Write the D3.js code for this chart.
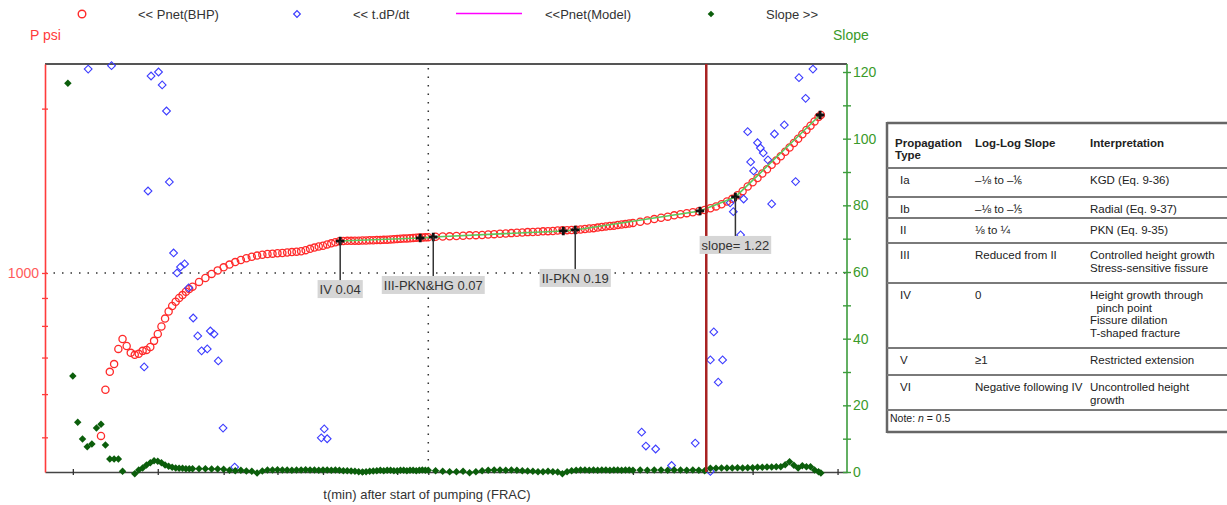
<!DOCTYPE html>
<html>
<head>
<meta charset="utf-8">
<script src="https://cdn.jsdelivr.net/npm/d3@7"></script>
<style>
  body { margin: 0; background: #fff; }
  svg { display: block; font-family: Arial, 'Liberation Sans', sans-serif; }
</style>
</head>
<body>
<svg id="chart" width="1227" height="505"></svg>
<script>
// time since start of pumping (min), shared by Pnet(BHP) and Slope
const tMin = [
  2.95, 3.00, 3.05, 3.10, 3.15, 3.20, 3.25, 3.30, 3.35, 3.40, 3.45, 3.50, 3.55, 3.60, 3.65, 3.70,
  3.75, 3.80, 3.85, 3.90, 3.95, 4.00, 4.05, 4.10, 4.15, 4.20, 4.25, 4.30, 4.35, 4.40, 4.45, 4.50,
  4.6, 4.7, 4.8, 4.9, 5.0, 5.1, 5.2, 5.3, 5.4, 5.5, 5.6, 5.7, 5.8, 5.9, 6.0, 6.1, 6.2, 6.3, 6.4, 6.5,
  6.6, 6.7, 6.8, 6.9, 7.0, 7.1, 7.2, 7.3, 7.4, 7.5, 7.6, 7.7, 7.8, 7.9, 8.0, 8.1, 8.2, 8.3, 8.4, 8.5,
  8.6, 8.7, 8.8, 8.9, 9.0, 9.1, 9.2, 9.3, 9.4, 9.5, 9.6, 9.7, 9.8, 9.9, 10.0,
  10.25, 10.5, 10.75, 11, 11.25, 11.5, 11.75, 12, 12.25, 12.5, 12.75, 13, 13.25, 13.5, 13.75, 14,
  14.25, 14.5, 14.75, 15, 15.25, 15.5, 15.75, 16, 16.25, 16.5, 16.75, 17, 17.25, 17.5, 17.75, 18,
  18.25, 18.5, 18.75, 19, 19.25, 19.5, 19.75, 20,
  20.5, 21, 21.5, 22, 22.5, 23, 23.5, 24, 24.5, 25, 25.5, 26, 26.5, 27, 27.5, 28, 28.5, 29, 29.5, 30,
  30.5, 31, 31.5, 32, 32.5, 33, 33.5, 34, 34.5, 35, 35.5, 36, 36.5, 37, 37.5, 37.8
];
// net pressure (psi), null where below the axis
const pnetBHP = [
  null, null, null, null, null, null, null, 503, 611, 659, 681, 726, 757, 735, 714, 708,
  711, 720, 723, 732, 751, 773, 798, 825, 850, 870, 886, 900, 911, 924, 935, 944,
  963, 979, 996, 1011, 1024, 1036, 1047, 1056, 1064, 1071, 1076, 1080, 1083, 1085, 1087, 1088, 1090, 1092, 1094, 1096,
  1101, 1107, 1113, 1118, 1122, 1128, 1133, 1138, 1143, 1144, 1145, 1145, 1146, 1146, 1147, 1147, 1148, 1148, 1149, 1149,
  1150, 1151, 1152, 1153, 1154, 1155, 1156, 1157, 1158, 1159, 1160, 1161, 1161, 1162, 1163,
  1165, 1166, 1167, 1169, 1170, 1172, 1173, 1174, 1176, 1178, 1180, 1181, 1183, 1185, 1186, 1188,
  1189, 1190, 1192, 1193, 1194, 1196, 1197, 1198, 1199, 1200, 1201, 1204, 1206, 1208, 1211, 1214,
  1217, 1219, 1221, 1224, 1227, 1229, 1232, 1235,
  1241, 1248, 1255, 1262, 1268, 1275, 1281, 1287, 1292, 1297, 1304, 1314, 1324, 1336, 1352, 1367, 1388, 1412, 1440, 1466,
  1493, 1521, 1549, 1578, 1607, 1636, 1667, 1698, 1730, 1762, 1795, 1827, 1860, 1895, 1930, 1947
];
// log-log slope (right axis)
const slope = [
  116.6, 28.8, 14.9, 9.9, 7.6, 8.4, 13.2, 14.3, 8.1, 3.9, 3.9, 3.9, 0.2, null, null, -0.5,
  0.6, 1.2, 2.1, 2.8, 3.4, 3.2, 2.8, 2.1, 1.7, 1.4, 1.2, 1.1, 1.1, 1.0, 1.0, 1.0,
  1.0, 1.0, 0.9, 0.9, 0.8, 0.5, 0.4, 0.5, 0.3, 0.2, -0.3, 0.3, 0.6, 0.6, 0.7, 0.6, 0.6, 0.5, 0.6, 0.6,
  0.7, 0.6, 0.6, 0.5, 0.6, 0.6, 0.5, 0.6, 0.5, 0.4, 0.4, 0.3, 0.2, 0.1, 0.0, 0.1, 0.2, 0.3, 0.4, 0.5,
  0.4, 0.5, 0.5, 0.4, 0.4, 0.5, 0.5, 0.4, 0.5, 0.5, 0.4, 0.5, 0.6, 0.5, 0.5,
  0.4, 0.2, 0.1, 0.1, 0.2, -0.2, 0.1, 0.4, 0.5, 0.6, 0.6, 0.5, 0.6, 0.5, 0.4, 0.3,
  0.2, 0.1, 0.1, 0.2, 0.1, 0.0, -0.5, 0.1, 0.4, 0.5, 0.6, 0.6, 0.5, 0.6, 0.5, 0.6,
  0.6, 0.5, 0.6, 0.6, 0.5, 0.6, 0.6, 0.5,
  0.6, 0.5, 0.6, 0.6, 0.5, 0.6, 0.6, 0.5, 0.6, 0.5, 0.4, 1.1, 1.1, 1.2, 1.2, 1.2, 1.3, 1.2, 1.3, 1.3,
  1.4, 1.4, 1.5, 1.5, 1.6, 1.6, 2.2, 3.1, 2.0, 1.2, 1.9, 1.6, 1.6, 0.6, 0.1, -0.3
];
// t.dP/dt (psi)
const dpdtTime = [3.16, 3.42, 3.82, 3.87, 3.91, 4.01, 4.06, 4.12, 4.16, 4.22, 4.27, 4.32, 4.38, 4.44,
  4.51, 4.58, 4.64, 4.73, 4.78, 4.84, 4.91, 4.99, 5.19, 6.96, 7.03, 7.10, 20.6, 20.9, 21.6, 22.8,
  24.7, 26.0, 26.0, 26.3, 26.7, 27.1, 27.8, 28.1, 28.8, 29.1, 29.5, 29.8, 30.1, 30.5, 30.8, 31.1,
  31.6, 32.0, 32.3, 33.4, 34.7, 35.1, 35.9, 36.8];
const dpdtPsi = [2363, 2397, 673, 1413, 2295, 2334, 2210, 1980, 1468, 1088, 1000, 1026, 1039, 939,
  827, 767, 720, 726, 783, 773, 690, 520, 441, 499, 518, 497, 511, 482, 476, 444,
  488, 433, 693, 780, 631, 693, 1344, 1295, 1174, 1366, 1815, 1597, 1538, 1732, 1694, 1659,
  1611, 1338, 1797, 1867, 1470, 2279, 2089, 2363];
// Pnet(Model) fit break points
const modelTime = [7.42, 9.73, 10.17, 15.8, 16.45, 25.1, 28.3, 37.7];
const modelPsi = [1144, 1159, 1164, 1194, 1199, 1299, 1378, 1947];
const fitLabels = ['IV 0.04', 'III-PKN&HG 0.07', 'II-PKN 0.19', 'slope= 1.22'];
const fitIndex = [0, 2, 4, 6];
const shutInTime = 25.64;

const pTicks = [500, 600, 700, 800, 900, 1000, 2000];
const slopeTicks = [0, 10, 20, 30, 40, 50, 60, 70, 80, 90, 100, 110, 120];
const tTicks = [3, 4, 5, 6, 7, 8, 9, 10, 20, 30, 40];

const tableHead = ['Propagation', 'Log-Log Slope', 'Interpretation'];
const tableRows = [
  ['Ia', '\u2013\u215B to \u2013\u2159', ['KGD (Eq. 9-36)']],
  ['Ib', '\u2013\u215B to \u2013\u2155', ['Radial (Eq. 9-37)']],
  ['II', '\u215B to \u00BC', ['PKN (Eq. 9-35)']],
  ['III', 'Reduced from II', ['Controlled height growth', 'Stress-sensitive fissure']],
  ['IV', '0', ['Height growth through', '  pinch point', 'Fissure dilation', 'T-shaped fracture']],
  ['V', '\u22651', ['Restricted extension']],
  ['VI', 'Negative following IV', ['Uncontrolled height', 'growth']]
];

const svg = d3.select('#chart');
const pL = 45, pR = 847, pT = 64, pB = 472;

const x = d3.scaleLog().domain([2.73, 41.3]).range([pL, pR]);
const y = d3.scaleLog().domain([432, 2414]).range([pB, pT]);
const yS = d3.scaleLinear().domain([0, 120]).range([pB, 72]);

svg.append('rect').attr('width', 1227).attr('height', 505).attr('fill', '#fff');

// dotted reference lines
svg.append('line')
  .attr('x1', pL).attr('x2', pR).attr('y1', y(1000)).attr('y2', y(1000))
  .attr('stroke', '#333').attr('stroke-width', 1.5).attr('stroke-dasharray', '1.5,7');
svg.append('line')
  .attr('x1', x(10)).attr('x2', x(10)).attr('y1', pT + 4).attr('y2', pB)
  .attr('stroke', '#333').attr('stroke-width', 1.5).attr('stroke-dasharray', '1.5,7');

// top frame
svg.append('line').attr('x1', pL).attr('x2', pR).attr('y1', pT).attr('y2', pT)
  .attr('stroke', '#555').attr('stroke-width', 2);

// bottom axis
const axB = svg.append('g').attr('transform', `translate(0,${pB})`)
  .call(d3.axisBottom(x).tickValues(tTicks).tickSize(3).tickSizeOuter(0).tickFormat(''));
axB.select('.domain').attr('stroke', '#444').attr('stroke-width', 1.5);
axB.selectAll('.tick line').attr('y1', -3).attr('stroke', '#333').attr('stroke-width', 1.3);

// left axis (psi)
const axL = svg.append('g').attr('transform', `translate(${pL},0)`)
  .call(d3.axisLeft(y).tickValues(pTicks).tickSize(3).tickSizeOuter(0)
    .tickFormat(d => d === 1000 ? '1000' : ''));
axL.select('.domain').attr('stroke', '#ff3b3b').attr('stroke-width', 1.6);
axL.selectAll('.tick line').attr('x1', 3).attr('stroke', '#ff3b3b').attr('stroke-width', 1.3);
axL.selectAll('.tick text').attr('fill', '#ff5a5a').attr('font-size', 14).attr('x', -6);

// right axis (slope)
svg.append('line').attr('x1', pR).attr('x2', pR).attr('y1', pT).attr('y2', pB)
  .attr('stroke', '#3c9c3c').attr('stroke-width', 1.6);
const axR = svg.append('g').attr('transform', `translate(${pR},0)`)
  .call(d3.axisRight(yS).tickValues(slopeTicks).tickSize(4).tickSizeOuter(0)
    .tickFormat(d => d % 20 === 0 ? d : ''));
axR.select('.domain').remove();
axR.selectAll('.tick line').attr('x1', -4).attr('stroke', '#3c9c3c').attr('stroke-width', 1.4);
axR.selectAll('.tick text').attr('fill', '#3a9a2a').attr('font-size', 14).attr('x', 6);

const diamond = d3.symbol().type(d3.symbolSquare);

// Pnet(BHP)
const bhp = tMin.map((t, i) => ({ t: t, p: pnetBHP[i] })).filter(d => d.p !== null);
svg.append('g').selectAll('circle').data(bhp).enter().append('circle')
  .attr('cx', d => x(d.t)).attr('cy', d => y(d.p)).attr('r', 3.6)
  .attr('fill', 'none').attr('stroke', '#ff2a2a').attr('stroke-width', 1.3);

// t.dP/dt
svg.append('g').selectAll('path').data(dpdtTime).enter().append('path')
  .attr('d', diamond.size(30))
  .attr('transform', (d, i) => `translate(${x(d)},${y(dpdtPsi[i])}) rotate(45)`)
  .attr('fill', 'none').attr('stroke', '#3d3dff').attr('stroke-width', 1.1);

// Pnet(Model)
const model = modelTime.map((t, i) => ({ t: t, p: modelPsi[i] }));
svg.append('path').datum(model)
  .attr('d', d3.line().x(d => x(d.t)).y(d => y(d.p)))
  .attr('fill', 'none').attr('stroke', '#5cc85c').attr('stroke-width', 1.6);

svg.append('g').selectAll('path').data(model).enter().append('path')
  .attr('d', d3.symbol().type(d3.symbolCross).size(40))
  .attr('transform', d => `translate(${x(d.t)},${y(d.p)})`)
  .attr('fill', '#111');

// Slope
const sl = tMin.map((t, i) => ({ t: t, s: slope[i] })).filter(d => d.s !== null);
svg.append('g').selectAll('path').data(sl).enter().append('path')
  .attr('d', diamond.size(28))
  .attr('transform', d => `translate(${x(d.t)},${yS(d.s)}) rotate(45)`)
  .attr('fill', '#0b5e0b');

// end of pumping
svg.append('line').attr('x1', x(shutInTime)).attr('x2', x(shutInTime))
  .attr('y1', pT).attr('y2', pB)
  .attr('stroke', '#a82222').attr('stroke-width', 2.5);

// fit annotations
fitIndex.forEach((k, i) => {
  const cx = x(modelTime[k]), cy = y(modelPsi[k]);
  svg.append('line').attr('x1', cx).attr('x2', cx).attr('y1', cy).attr('y2', cy + 40)
    .attr('stroke', '#333').attr('stroke-width', 1.5);
  const g = svg.append('g');
  const txt = g.append('text').attr('x', cx).attr('y', cy + 53)
    .attr('text-anchor', 'middle').attr('font-size', 13).attr('fill', '#333')
    .text(fitLabels[i]);
  const bb = txt.node().getBBox();
  g.insert('rect', 'text').attr('x', bb.x - 2).attr('y', cy + 39)
    .attr('width', bb.width + 4).attr('height', 18).attr('fill', '#d6d6d6');
});

// legend
const lg = svg.append('g').attr('font-size', 13).attr('fill', '#333');
lg.append('circle').attr('cx', 82).attr('cy', 14).attr('r', 3.8)
  .attr('fill', 'none').attr('stroke', '#ff2a2a').attr('stroke-width', 1.4);
lg.append('text').attr('x', 138).attr('y', 19).text('<< Pnet(BHP)');
lg.append('path').attr('d', diamond.size(22)).attr('transform', 'translate(297,14) rotate(45)')
  .attr('fill', 'none').attr('stroke', '#3d3dff').attr('stroke-width', 1.2);
lg.append('text').attr('x', 353).attr('y', 19).text('<< t.dP/dt');
lg.append('line').attr('x1', 456).attr('x2', 522).attr('y1', 13.5).attr('y2', 13.5)
  .attr('stroke', '#ff00ff').attr('stroke-width', 1.5);
lg.append('text').attr('x', 545).attr('y', 19).text('<<Pnet(Model)');
lg.append('path').attr('d', diamond.size(22)).attr('transform', 'translate(711,14) rotate(45)')
  .attr('fill', '#0b5e0b');
lg.append('text').attr('x', 766).attr('y', 19).text('Slope >>');

svg.append('text').attr('x', 30).attr('y', 40).attr('font-size', 14).attr('fill', '#ff3b3b').text('P psi');
svg.append('text').attr('x', 833).attr('y', 40).attr('font-size', 14).attr('fill', '#3a9a2a').text('Slope');
svg.append('text').attr('x', 427).attr('y', 499).attr('text-anchor', 'middle')
  .attr('font-size', 13).attr('fill', '#333').text('t(min) after start of pumping (FRAC)');

// propagation type table
const tb = svg.append('g').attr('font-size', 11.5).attr('fill', '#222');
const rowLines = [168, 197, 218, 243, 283, 348, 375, 410];
const rowTop = [168, 197, 218, 243, 283, 348, 375];
const c1 = 900, c2 = 975, c3 = 1090;
tb.append('line').attr('x1', 887).attr('x2', 1227).attr('y1', 123).attr('y2', 123)
  .attr('stroke', '#666').attr('stroke-width', 2.5);
tb.append('line').attr('x1', 887).attr('x2', 1227).attr('y1', 432).attr('y2', 432)
  .attr('stroke', '#666').attr('stroke-width', 2.5);
tb.append('line').attr('x1', 887).attr('x2', 887).attr('y1', 122).attr('y2', 433)
  .attr('stroke', '#666').attr('stroke-width', 2.5);
rowLines.forEach(v => {
  tb.append('line').attr('x1', 887).attr('x2', 1227).attr('y1', v).attr('y2', v)
    .attr('stroke', '#7a7a7a').attr('stroke-width', 2);
});
tb.append('text').attr('x', 895).attr('y', 147).attr('font-weight', 'bold').text(tableHead[0]);
tb.append('text').attr('x', 895).attr('y', 159).attr('font-weight', 'bold').text('Type');
tb.append('text').attr('x', c2).attr('y', 147).attr('font-weight', 'bold').text(tableHead[1]);
tb.append('text').attr('x', c3).attr('y', 147).attr('font-weight', 'bold').text(tableHead[2]);
tableRows.forEach((r, i) => {
  const by = rowTop[i] + 16;
  tb.append('text').attr('x', c1).attr('y', by).text(r[0]);
  tb.append('text').attr('x', c2).attr('y', by).text(r[1]);
  r[2].forEach((s, j) => {
    tb.append('text').attr('x', c3).attr('y', by + j * 12.5)
      .attr('xml:space', 'preserve').style('white-space', 'pre').text(s);
  });
});
const note = tb.append('text').attr('x', 890).attr('y', 422).attr('font-size', 10.5);
note.append('tspan').text('Note: ');
note.append('tspan').attr('font-style', 'italic').text('n');
note.append('tspan').text(' = 0.5');
</script>
</body>
</html>
